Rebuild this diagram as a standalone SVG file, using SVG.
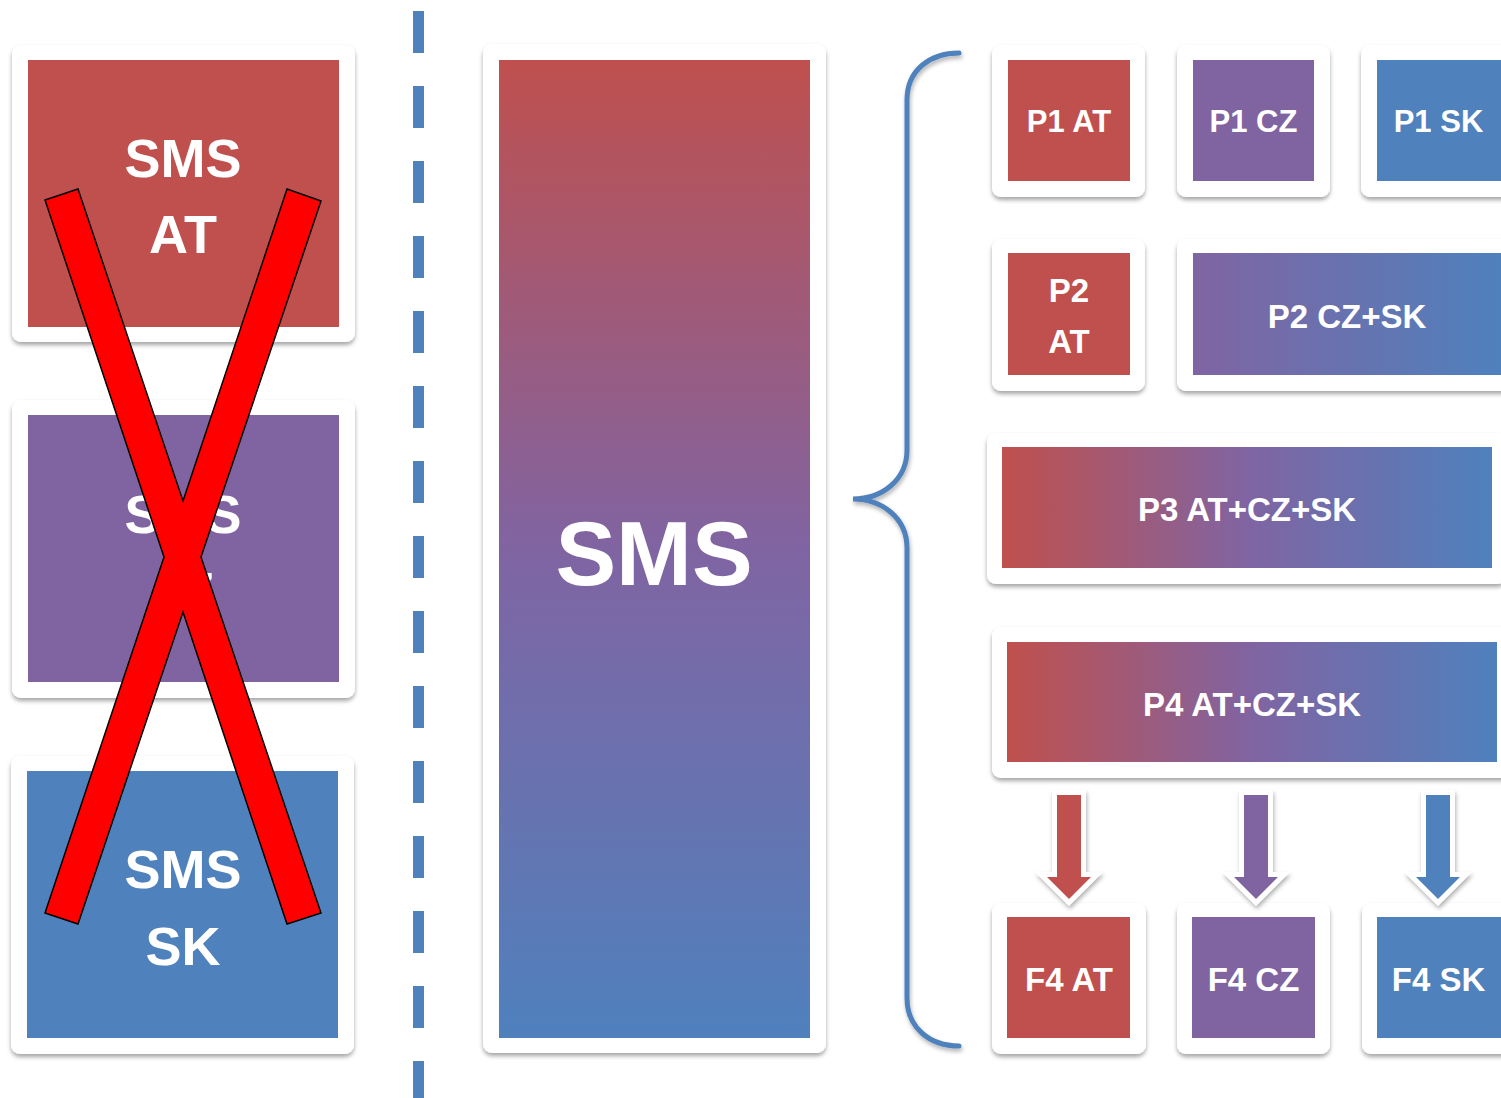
<svg xmlns="http://www.w3.org/2000/svg" width="1501" height="1098" viewBox="0 0 1501 1098">
<style>
.frame{fill:#ffffff;filter:url(#sh)}
.red{fill:#c0504d}
.pur{fill:#8064a2}
.blu{fill:#4f81bd}
.t{font-family:"Liberation Sans",Arial,sans-serif;font-weight:bold;fill:#ffffff;text-anchor:middle}
.big{font-size:54px}
.sm{font-size:31px}
.md{font-size:33px}
</style>
<defs>
<filter id="sh" x="-10%" y="-10%" width="120%" height="125%">
<feDropShadow dx="0" dy="3" stdDeviation="2.2" flood-color="#000" flood-opacity="0.35"/>
</filter>
<filter id="sh2" x="-20%" y="-10%" width="140%" height="130%">
<feDropShadow dx="1" dy="3" stdDeviation="2" flood-color="#000" flood-opacity="0.3"/>
</filter>
<linearGradient id="gv" x1="0" y1="0" x2="0" y2="1">
<stop offset="0" stop-color="#bf504e"/>
<stop offset="0.5" stop-color="#8064a2"/>
<stop offset="1" stop-color="#4f81bd"/>
</linearGradient>
<linearGradient id="gh" x1="0" y1="0" x2="1" y2="0">
<stop offset="0" stop-color="#c0504d"/>
<stop offset="0.5" stop-color="#8064a2"/>
<stop offset="1" stop-color="#4f81bd"/>
</linearGradient>
<linearGradient id="gpb" x1="0" y1="0" x2="1" y2="0">
<stop offset="0" stop-color="#8064a2"/>
<stop offset="1" stop-color="#4f81bd"/>
</linearGradient>
</defs>

<g id="sms-at">
<rect class="frame" x="12" y="45" width="343" height="297" rx="9"/>
<rect class="red" x="28" y="60" width="311" height="267"/>
<text class="t big" x="183" y="177">SMS</text>
<text class="t big" x="183" y="253">AT</text>
</g>
<g id="sms-cz">
<rect class="frame" x="12" y="400" width="343" height="298" rx="9"/>
<rect class="pur" x="28" y="415" width="311" height="267"/>
<text class="t big" x="183" y="533">SMS</text>
<text class="t big" x="183" y="610" textLength="62" lengthAdjust="spacingAndGlyphs">CZ</text>
</g>
<g id="sms-sk">
<rect class="frame" x="11" y="756" width="343" height="298" rx="9"/>
<rect class="blu" x="27" y="771" width="311" height="267"/>
<text class="t big" x="183" y="888">SMS</text>
<text class="t big" x="183" y="965">SK</text>
</g>
<g id="cross">
<polygon points="45,200 78,189 183,501 287,189 321,201 201,557 321,913 287,924 183,612 78,924 45,913 164,557" fill="#ff0000" stroke="#000000" stroke-width="1.5" stroke-linejoin="miter"/>
</g>

<g id="divider">
<line x1="418.5" y1="11" x2="418.5" y2="1098" stroke="#4f81bd" stroke-width="11" stroke-dasharray="42 33"/>
</g>

<g id="sms">
<rect class="frame" x="483" y="44" width="343" height="1009" rx="9"/>
<rect x="499" y="60" width="311" height="978" fill="url(#gv)"/>
<text class="t" x="654" y="585" font-size="91">SMS</text>
</g>

<g id="p1-at">
<rect class="frame" x="992" y="45" width="153" height="152" rx="9"/>
<rect class="red" x="1008" y="60" width="122" height="121"/>
<text class="t sm" x="1069" y="132">P1 AT</text>
</g>
<g id="p1-cz">
<rect class="frame" x="1177" y="45" width="153" height="152" rx="9"/>
<rect class="pur" x="1193" y="60" width="121" height="121"/>
<text class="t sm" x="1253.5" y="132">P1 CZ</text>
</g>
<g id="p1-sk">
<rect class="frame" x="1361" y="45" width="155" height="152" rx="9"/>
<rect class="blu" x="1377" y="60" width="124" height="121"/>
<text class="t sm" x="1438.5" y="132">P1 SK</text>
</g>
<g id="p2-at">
<rect class="frame" x="992" y="239" width="153" height="152" rx="9"/>
<rect class="red" x="1008" y="253" width="122" height="122"/>
<text class="t md" x="1069" y="302">P2</text>
<text class="t md" x="1069" y="353">AT</text>
</g>
<g id="p2-czsk">
<rect class="frame" x="1177" y="239" width="340" height="152" rx="9"/>
<rect x="1193" y="253" width="308" height="122" fill="url(#gpb)"/>
<text class="t md" x="1347" y="328">P2 CZ+SK</text>
</g>
<g id="p3">
<rect class="frame" x="987" y="433" width="520" height="151" rx="9"/>
<rect x="1002" y="447" width="490" height="121" fill="url(#gh)"/>
<text class="t md" x="1247" y="521">P3 AT+CZ+SK</text>
</g>
<g id="p4">
<rect class="frame" x="992" y="627" width="520" height="151" rx="9"/>
<rect x="1007" y="642" width="490" height="120" fill="url(#gh)"/>
<text class="t md" x="1252" y="716">P4 AT+CZ+SK</text>
</g>
<g id="f4-at">
<rect class="frame" x="992" y="903" width="154" height="151" rx="9"/>
<rect class="red" x="1007" y="917" width="123" height="121"/>
<text class="t md" x="1069" y="991">F4 AT</text>
</g>
<g id="f4-cz">
<rect class="frame" x="1177" y="903" width="153" height="151" rx="9"/>
<rect class="pur" x="1192" y="917" width="123" height="121"/>
<text class="t md" x="1253.5" y="991">F4 CZ</text>
</g>
<g id="f4-sk">
<rect class="frame" x="1362" y="903" width="154" height="151" rx="9"/>
<rect class="blu" x="1377" y="917" width="124" height="121"/>
<text class="t md" x="1438.5" y="991">F4 SK</text>
</g>

<g id="connectors">
<path d="M959,53 C930,53 907,70 907,100 L907,450 C907,480 882,499 853,499 C882,499 907,518 907,548 L907,998 C907,1028 930,1046 959,1046" fill="none" stroke="#4f81bd" stroke-width="5" stroke-linecap="round" filter="url(#sh2)"/>
<g filter="url(#sh2)">
<polygon points="1057,795 1081,795 1081,877 1091,877 1069,899 1047,877 1057,877" fill="#fff" stroke="#fff" stroke-width="10" stroke-linejoin="miter" stroke-miterlimit="4"/>
<polygon points="1244,795 1268,795 1268,877 1278,877 1256,899 1234,877 1244,877" fill="#fff" stroke="#fff" stroke-width="10" stroke-linejoin="miter" stroke-miterlimit="4"/>
<polygon points="1426,795 1450,795 1450,877 1460,877 1438,899 1416,877 1426,877" fill="#fff" stroke="#fff" stroke-width="10" stroke-linejoin="miter" stroke-miterlimit="4"/>
</g>
<polygon class="red" points="1057,795 1081,795 1081,877 1091,877 1069,899 1047,877 1057,877"/>
<polygon class="pur" points="1244,795 1268,795 1268,877 1278,877 1256,899 1234,877 1244,877"/>
<polygon class="blu" points="1426,795 1450,795 1450,877 1460,877 1438,899 1416,877 1426,877"/>
</g>
</svg>
